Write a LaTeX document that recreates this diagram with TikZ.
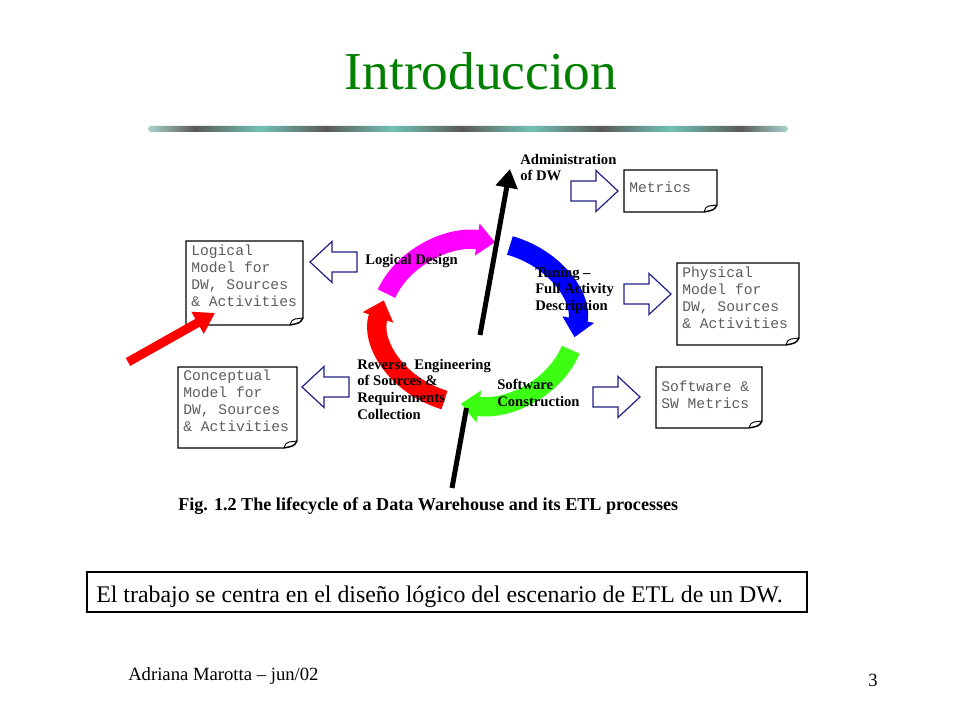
\documentclass[tikz,border=0pt]{standalone}
\usepackage{fontspec}
\setmainfont{Liberation Serif}
\newfontfamily\boxmono{Liberation Mono}
\usetikzlibrary{arrows.meta}
\definecolor{titlegreen}{HTML}{008000}
\definecolor{navyline}{HTML}{1F1F85}
\definecolor{boxgray}{HTML}{5C5C5C}
\definecolor{cycmag}{HTML}{FF00FF}
\definecolor{cycblue}{HTML}{0000FF}
\definecolor{cycgreen}{HTML}{3CFF14}
\definecolor{cycred}{HTML}{FF0000}
\definecolor{bargray}{HTML}{5A5A5A}
\definecolor{barteal}{HTML}{72C2B2}
\definecolor{barend}{HTML}{A8D4CC}
\pgfdeclarehorizontalshading{barshade}{100bp}{color(0bp)=(barend); color(25bp)=(barend); color(28.7bp)=(bargray); color(33.8bp)=(barteal); color(38.9bp)=(bargray); color(44.1bp)=(barteal); color(49.5bp)=(bargray); color(54.9bp)=(barteal); color(60.4bp)=(bargray); color(65.8bp)=(barteal); color(71.3bp)=(bargray); color(75bp)=(barend); color(100bp)=(barend)}
\newcommand\docbox[7]{%
  \draw[docline] (#2,#3) -- (#4,#3) -- (#4,#5-7) .. controls (#4-3,#5-2) .. (#4-13,#5) -- (#2,#5) -- cycle;
  \draw[docline, fill=none, line width=0.7pt] (#4-13,#5) .. controls (#4-11,#5-5) .. (#4-8,#5-6) -- (#4,#5-7);
  \node[boxtext] (#1) at (#2+5,#3+#6) {#7};
}
\begin{document}
\begin{tikzpicture}[x=0.75pt,y=-0.75pt,
  docline/.style={draw=black, line width=1.1pt, fill=white, line join=miter},
  boxtext/.style={font=\boxmono\fontsize{11}{12.75}\selectfont, text=boxgray, align=left, inner sep=0pt, anchor=north west},
  phase/.style={font=\bfseries\fontsize{11}{12.4}\selectfont, align=left, inner sep=0pt, anchor=north west},
  hollow/.style={draw=navyline, line width=0.9pt, fill=white, line join=miter},
  cyc/.style={line width=14.5pt, -{Triangle[length=13.5pt,width=23.5pt]}},
  axisline/.style={line width=3.75pt, draw=black},
  rhollow/.pic={\draw[hollow] (-25,-10) -- (0,-10) -- (0,-20.5) -- (22,0) -- (0,20.5) -- (0,10) -- (-25,10) -- cycle;}
]
\useasboundingbox (0,0) rectangle (960,720);
\fill[white] (0,0) rectangle (960,720);

% title and bar
\node[font=\fontsize{40}{48}\selectfont, text=titlegreen, anchor=base, inner sep=0pt] (title) at (481,90) {Introduccion};
\shade[shading=barshade, rounded corners=2.25pt] (148,126) rectangle (788,132);

% documents
\docbox{logical}{186}{241}{303}{325}{4}{Logical\\Model for\\DW, Sources\\\& Activities}
\docbox{metrics}{624}{170}{717}{212}{12}{Metrics}
\docbox{physical}{677}{263}{799}{345}{4}{Physical\\Model for\\DW, Sources\\\& Activities}
\docbox{swmetrics}{656}{367}{762}{428}{14}{Software \&\\SW Metrics}
\docbox{conceptual}{178}{367}{297}{448}{3}{Conceptual\\Model for\\DW, Sources\\\& Activities}

% hollow arrows
\pic at (596,191) {rhollow};
\pic at (649,294) {rhollow};
\pic at (618,397) {rhollow};
\pic[rotate=180] at (332,262) {rhollow};
\pic[rotate=180] at (324,387) {rhollow};

% lifecycle arcs
\draw[cyc, cycmag] ([shift={(478,323)}]201:98 and 82) arc[start angle=201, end angle=280, x radius=98, y radius=82];
\draw[cyc, cycblue] ([shift={(478,323)}]289:98 and 82) arc[start angle=289, end angle=370, x radius=98, y radius=82];
\draw[cyc, cycgreen] ([shift={(478,323)}]19:98 and 82) arc[start angle=19, end angle=100, x radius=98, y radius=82];
\draw[cyc, cycred] ([shift={(478,323)}]110:98 and 82) arc[start angle=110, end angle=196, x radius=98, y radius=82];

% axis arrow
\coordinate (axbot) at (452,488);
\coordinate (axgap1) at (466.5,408);
\coordinate (axgap2) at (480,335);
\coordinate (axtop) at (510,169);
\draw[axisline] (axbot) -- (axgap1);
\draw[axisline, -{Triangle[length=14pt,width=16pt]}] (axgap2) -- (axtop);

% red pointer
\coordinate (ptail) at (128,362);
\coordinate (ptip) at (215,313);
\draw[line width=6.75pt, cycred, -{Triangle[length=15pt,width=18pt]}] (ptail) -- (ptip);

% phase labels
\node[phase] (ld) at (365,254) {Logical Design};
\node[phase] (adm) at (520,154) {Administration\\of DW};
\node[phase] (tun) at (535,267) {Tuning --\\Full Activity\\Description};
\node[phase] (rev) at (357,359) {Reverse\ \ Engineering\\of Sources \&\\Requirements\\Collection};
\node[phase] (sw) at (497,379) {Software\\Construction};

% caption
\node[font=\bfseries\fontsize{13.6}{16}\selectfont, anchor=base west, inner sep=0pt] (cap) at (178,510) {Fig. 1.2 The lifecycle of a Data Warehouse and its ETL processes};

% statement box
\draw[line width=0.8pt] (87,572) rectangle (807,612);
\node[font=\fontsize{17.9}{20}\selectfont, anchor=base west, inner sep=0pt] (stmt) at (96,602) {El trabajo se centra en el diseño lógico del escenario de ETL de un DW.};

% footer
\node[font=\fontsize{14}{16}\selectfont, anchor=base west, inner sep=0pt] (foot) at (128,680) {Adriana Marotta -- jun/02};
\node[font=\fontsize{14}{16}\selectfont, anchor=base, inner sep=0pt] (pnum) at (873,686) {3};
\end{tikzpicture}
\end{document}
